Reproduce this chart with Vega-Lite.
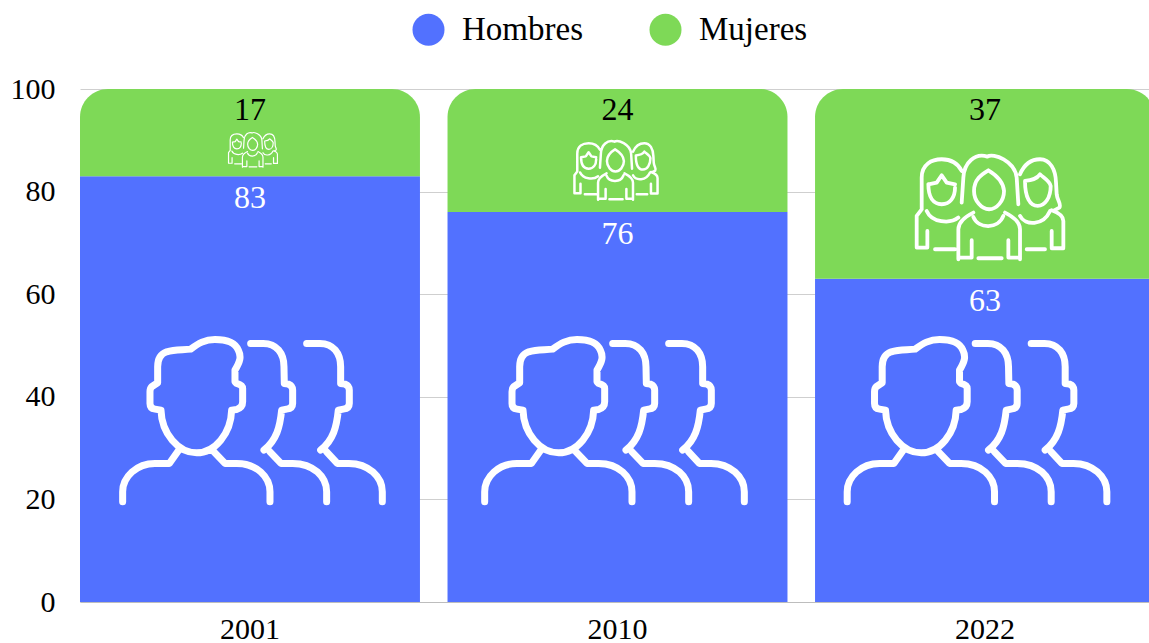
{
"$schema":"https://vega.github.io/schema/vega-lite/v6.json",
"width":1069,"height":513,"autosize":{"type":"none"},
"padding":{"left":80,"top":89,"right":0,"bottom":41},
"background":"white",
"datasets":{"d":[
{"anio":"2001","genero":"Hombres","valor":83},{"anio":"2001","genero":"Mujeres","valor":17},
{"anio":"2010","genero":"Hombres","valor":76},{"anio":"2010","genero":"Mujeres","valor":24},
{"anio":"2022","genero":"Hombres","valor":63},{"anio":"2022","genero":"Mujeres","valor":37}]},
"data":{"name":"d"},
"transform":[{"stack":"valor","groupby":["anio"],"sort":[{"field":"genero","order":"ascending"}],"as":["y0","y1"]}],
"config":{"font":"Liberation Serif","view":{"stroke":null},"axis":{"labelFont":"Liberation Serif","labelColor":"#000"},"legend":{"labelFont":"Liberation Serif"}},
"encoding":{
"x":{"field":"anio","type":"nominal","title":null,"scale":{"type":"band","paddingInner":0.075,"paddingOuter":0,"range":[0,1075]},
"axis":{"labelAngle":0,"labelFontSize":30,"labelPadding":12,"ticks":false,"domainColor":"#bdbdbd","domainWidth":1,"grid":false}}},
"layer":[
{"mark":{"type":"bar"},"transform":[{"filter":"datum.genero==='Hombres'"}],
"encoding":{
"y":{"field":"y1","type":"quantitative","title":null,"scale":{"domain":[0,100]},"axis":{"values":[0,20,40,60,80,100],"labelFontSize":30,"labelPadding":25,"ticks":false,"domain":false,"grid":true,"gridColor":"#cfcfcf","gridWidth":1}},
"y2":{"field":"y0"},
"color":{"field":"genero","type":"nominal","title":null,"scale":{"domain":["Hombres","Mujeres"],"range":["#5271FF","#7ED957"]},
"legend":{"orient":"none","legendX":332,"legendY":-76,"direction":"horizontal","symbolType":"circle","symbolSize":1024,"symbolStrokeWidth":0,"symbolOpacity":1,"labelFontSize":33,"labelColor":"#000","labelOffset":17,"columnPadding":66}}}},
{"mark":{"type":"bar","cornerRadiusTopLeft":28,"cornerRadiusTopRight":28},"transform":[{"filter":"datum.genero==='Mujeres'"}],
"encoding":{"y":{"field":"y1","type":"quantitative"},"y2":{"field":"y0"},"color":{"field":"genero","type":"nominal"}}},
{"mark":{"type":"text","fontSize":32,"color":"#000","dy":21,"baseline":"middle"},"transform":[{"filter":"datum.genero==='Mujeres'"}],
"encoding":{"y":{"field":"y1","type":"quantitative"},"text":{"field":"valor","type":"quantitative"}}},
{"mark":{"type":"text","fontSize":32,"color":"#fff","dy":22,"baseline":"middle"},"transform":[{"filter":"datum.genero==='Hombres'"}],
"encoding":{"y":{"field":"y1","type":"quantitative"},"text":{"field":"valor","type":"quantitative"}}},
{"mark":{"type":"point","filled":false,"stroke":"#fff","opacity":1,"strokeWidth":7,"strokeCap":"round","strokeJoin":"round","size":0.4444,"xOffset":0,
"shape":"M-382 238L-382 208C-382 163 -340 123 -285 123L-242 123L-215 85M-267 -37C-265 33 -215 91 -160 91C-105 91 -57 33 -55 -37L-40 -39Q-22 -45 -22 -62L-22 -102Q-22 -112 -40 -117L-45 -122L-45 -157C-30 -182 -25 -197 -35 -217C-45 -242 -75 -249 -105 -249C-135 -249 -155 -237 -178 -220C-200 -217 -225 -219 -250 -212C-270 -205 -277 -187 -277 -167L-277 -119L-295 -107Q-300 -102 -300 -92L-300 -57Q-300 -42 -285 -40ZM-108 88L-75 123L-40 123C20 123 60 163 60 208L60 238M2 -237L40 -237C80 -237 102 -207 102 -167L103 -117L115 -115Q128 -110 128 -97L128 -57Q128 -42 110 -40L95 -37C90 13 80 53 42 83M60 88L93 123L128 123C190 123 230 163 230 208L230 238M170 -237L210 -237C250 -237 272 -207 272 -167L272 -117L285 -115Q298 -110 298 -97L298 -57Q298 -42 280 -40L265 -37C260 13 250 53 212 83M230 88L262 123L297 123C355 123 397 163 397 208L397 238"},
"encoding":{"y":{"datum":35,"type":"quantitative"}},"transform":[{"filter":"datum.anio==='2001' && datum.genero==='Hombres'"}]},
{"mark":{"type":"point","filled":false,"stroke":"#fff","opacity":1,"strokeWidth":7,"strokeCap":"round","strokeJoin":"round","size":0.4444,"xOffset":-5.5,
"shape":"M-382 238L-382 208C-382 163 -340 123 -285 123L-242 123L-215 85M-267 -37C-265 33 -215 91 -160 91C-105 91 -57 33 -55 -37L-40 -39Q-22 -45 -22 -62L-22 -102Q-22 -112 -40 -117L-45 -122L-45 -157C-30 -182 -25 -197 -35 -217C-45 -242 -75 -249 -105 -249C-135 -249 -155 -237 -178 -220C-200 -217 -225 -219 -250 -212C-270 -205 -277 -187 -277 -167L-277 -119L-295 -107Q-300 -102 -300 -92L-300 -57Q-300 -42 -285 -40ZM-108 88L-75 123L-40 123C20 123 60 163 60 208L60 238M2 -237L40 -237C80 -237 102 -207 102 -167L103 -117L115 -115Q128 -110 128 -97L128 -57Q128 -42 110 -40L95 -37C90 13 80 53 42 83M60 88L93 123L128 123C190 123 230 163 230 208L230 238M170 -237L210 -237C250 -237 272 -207 272 -167L272 -117L285 -115Q298 -110 298 -97L298 -57Q298 -42 280 -40L265 -37C260 13 250 53 212 83M230 88L262 123L297 123C355 123 397 163 397 208L397 238"},
"encoding":{"y":{"datum":35,"type":"quantitative"}},"transform":[{"filter":"datum.anio==='2010' && datum.genero==='Hombres'"}]},
{"mark":{"type":"point","filled":false,"stroke":"#fff","opacity":1,"strokeWidth":7,"strokeCap":"round","strokeJoin":"round","size":0.4444,"xOffset":-10.5,
"shape":"M-382 238L-382 208C-382 163 -340 123 -285 123L-242 123L-215 85M-267 -37C-265 33 -215 91 -160 91C-105 91 -57 33 -55 -37L-40 -39Q-22 -45 -22 -62L-22 -102Q-22 -112 -40 -117L-45 -122L-45 -157C-30 -182 -25 -197 -35 -217C-45 -242 -75 -249 -105 -249C-135 -249 -155 -237 -178 -220C-200 -217 -225 -219 -250 -212C-270 -205 -277 -187 -277 -167L-277 -119L-295 -107Q-300 -102 -300 -92L-300 -57Q-300 -42 -285 -40ZM-108 88L-75 123L-40 123C20 123 60 163 60 208L60 238M2 -237L40 -237C80 -237 102 -207 102 -167L103 -117L115 -115Q128 -110 128 -97L128 -57Q128 -42 110 -40L95 -37C90 13 80 53 42 83M60 88L93 123L128 123C190 123 230 163 230 208L230 238M170 -237L210 -237C250 -237 272 -207 272 -167L272 -117L285 -115Q298 -110 298 -97L298 -57Q298 -42 280 -40L265 -37C260 13 250 53 212 83M230 88L262 123L297 123C355 123 397 163 397 208L397 238"},
"encoding":{"y":{"datum":35,"type":"quantitative"}},"transform":[{"filter":"datum.anio==='2022' && datum.genero==='Hombres'"}]},
{"mark":{"type":"point","filled":false,"stroke":"#fff","opacity":1,"strokeWidth":1.2,"strokeCap":"round","strokeJoin":"round","size":0.0494,"xOffset":3,
"shape":"M-85 -7L-80 -82C-78 -127 -45 -157 -8 -145C10 -157 75 -132 80 -82L85 -2M-48 -42C-48 -77 -25 -92 -5 -104C15 -92 40 -72 42 -42C42 -12 20 13 -3 13C-25 13 -48 -12 -48 -42ZM-50 36C-35 73 25 73 40 33M-95 163L-95 73C-95 48 -70 33 -50 23M90 163L90 73C90 48 65 33 45 23M-95 158L-55 158L-55 106M55 106L55 158L90 158M-35 160L35 160M-205 13L-205 -82C-205 -122 -175 -137 -145 -137C-115 -137 -95 -122 -85 -102M-185 -62L-160 -67L-145 -89L-130 -67L-105 -62M-185 -62C-185 -22 -170 -2 -145 -2C-120 -2 -105 -22 -105 -52M-205 13L-220 33L-220 128L-188 128L-188 78M-165 133L-105 133M-190 18C-175 53 -120 58 -95 38M90 -92C105 -127 130 -137 150 -137C180 -137 197 -107 198 -67L200 -32C202 -12 215 -2 208 8L190 18M105 -72C125 -74 140 -77 150 -92C160 -82 180 -72 182 -57C182 -22 165 3 143 3C120 3 105 -22 105 -72ZM90 33C105 63 160 63 180 18M220 128L220 48C220 33 205 23 185 16M220 130L185 130L185 78M110 133L165 133"},
"encoding":{"y":{"datum":88.3,"type":"quantitative"}},"transform":[{"filter":"datum.anio==='2001' && datum.genero==='Mujeres'"}]},
{"mark":{"type":"point","filled":false,"stroke":"#fff","opacity":1,"strokeWidth":2.5,"strokeCap":"round","strokeJoin":"round","size":0.1427,"xOffset":-1.5,
"shape":"M-85 -7L-80 -82C-78 -127 -45 -157 -8 -145C10 -157 75 -132 80 -82L85 -2M-48 -42C-48 -77 -25 -92 -5 -104C15 -92 40 -72 42 -42C42 -12 20 13 -3 13C-25 13 -48 -12 -48 -42ZM-50 36C-35 73 25 73 40 33M-95 163L-95 73C-95 48 -70 33 -50 23M90 163L90 73C90 48 65 33 45 23M-95 158L-55 158L-55 106M55 106L55 158L90 158M-35 160L35 160M-205 13L-205 -82C-205 -122 -175 -137 -145 -137C-115 -137 -95 -122 -85 -102M-185 -62L-160 -67L-145 -89L-130 -67L-105 -62M-185 -62C-185 -22 -170 -2 -145 -2C-120 -2 -105 -22 -105 -52M-205 13L-220 33L-220 128L-188 128L-188 78M-165 133L-105 133M-190 18C-175 53 -120 58 -95 38M90 -92C105 -127 130 -137 150 -137C180 -137 197 -107 198 -67L200 -32C202 -12 215 -2 208 8L190 18M105 -72C125 -74 140 -77 150 -92C160 -82 180 -72 182 -57C182 -22 165 3 143 3C120 3 105 -22 105 -72ZM90 33C105 63 160 63 180 18M220 128L220 48C220 33 205 23 185 16M220 130L185 130L185 78M110 133L165 133"},
"encoding":{"y":{"datum":84.4,"type":"quantitative"}},"transform":[{"filter":"datum.anio==='2010' && datum.genero==='Mujeres'"}]},
{"mark":{"type":"point","filled":false,"stroke":"#fff","opacity":1,"strokeWidth":3.8,"strokeCap":"round","strokeJoin":"round","size":0.4444,"xOffset":5,
"shape":"M-85 -7L-80 -82C-78 -127 -45 -157 -8 -145C10 -157 75 -132 80 -82L85 -2M-48 -42C-48 -77 -25 -92 -5 -104C15 -92 40 -72 42 -42C42 -12 20 13 -3 13C-25 13 -48 -12 -48 -42ZM-50 36C-35 73 25 73 40 33M-95 163L-95 73C-95 48 -70 33 -50 23M90 163L90 73C90 48 65 33 45 23M-95 158L-55 158L-55 106M55 106L55 158L90 158M-35 160L35 160M-205 13L-205 -82C-205 -122 -175 -137 -145 -137C-115 -137 -95 -122 -85 -102M-185 -62L-160 -67L-145 -89L-130 -67L-105 -62M-185 -62C-185 -22 -170 -2 -145 -2C-120 -2 -105 -22 -105 -52M-205 13L-220 33L-220 128L-188 128L-188 78M-165 133L-105 133M-190 18C-175 53 -120 58 -95 38M90 -92C105 -127 130 -137 150 -137C180 -137 197 -107 198 -67L200 -32C202 -12 215 -2 208 8L190 18M105 -72C125 -74 140 -77 150 -92C160 -82 180 -72 182 -57C182 -22 165 3 143 3C120 3 105 -22 105 -72ZM90 33C105 63 160 63 180 18M220 128L220 48C220 33 205 23 185 16M220 130L185 130L185 78M110 133L165 133"},
"encoding":{"y":{"datum":77.4,"type":"quantitative"}},"transform":[{"filter":"datum.anio==='2022' && datum.genero==='Mujeres'"}]}
]
}
